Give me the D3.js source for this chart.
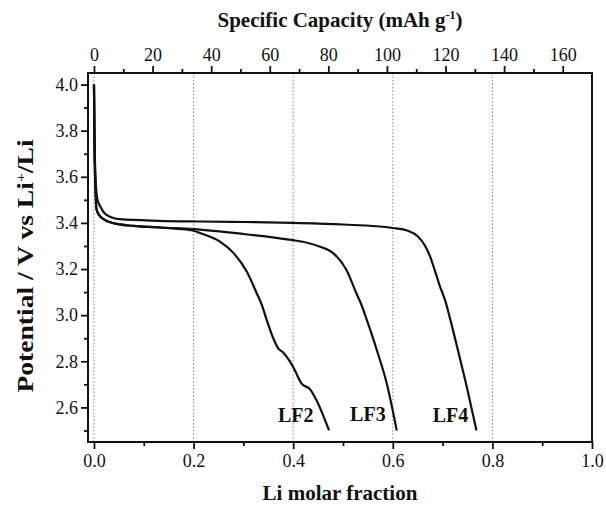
<!DOCTYPE html>
<html>
<head>
<meta charset="utf-8">
<script src="https://cdn.jsdelivr.net/npm/d3@7"></script>
<style>
  html, body { margin: 0; padding: 0; background: #fff; }
  svg text { font-family: "Liberation Serif", "Times New Roman", serif; fill: #111; }
</style>
</head>
<body>
<svg id="chart" width="606" height="505"></svg>
<script>
// ---- data (Li molar fraction x, potential V) ----
const lf2X = [0, 0.001, 0.003, 0.005, 0.01, 0.02, 0.039, 0.079, 0.133, 0.17, 0.2, 0.213, 0.253, 0.28, 0.307, 0.327, 0.337, 0.347, 0.36, 0.37, 0.38, 0.39, 0.40, 0.417, 0.434, 0.447, 0.472];
const lf2V = [4.0, 3.75, 3.55, 3.46, 3.435, 3.415, 3.399, 3.387, 3.380, 3.374, 3.366, 3.356, 3.319, 3.27, 3.188, 3.094, 3.045, 2.978, 2.9, 2.856, 2.838, 2.81, 2.775, 2.703, 2.678, 2.63, 2.5];

const lf3X = [0, 0.001, 0.003, 0.005, 0.01, 0.02, 0.039, 0.079, 0.133, 0.2, 0.3, 0.373, 0.4, 0.43, 0.454, 0.481, 0.507, 0.527, 0.537, 0.548, 0.568, 0.588, 0.608];
const lf3V = [4.0, 3.75, 3.55, 3.46, 3.435, 3.415, 3.399, 3.387, 3.380, 3.373, 3.352, 3.333, 3.325, 3.313, 3.297, 3.268, 3.196, 3.094, 3.045, 2.978, 2.848, 2.703, 2.5];

const lf4X = [0, 0.001, 0.003, 0.007, 0.013, 0.025, 0.052, 0.13, 0.213, 0.3, 0.4, 0.5, 0.6, 0.63, 0.65, 0.665, 0.675, 0.685, 0.695, 0.705, 0.715, 0.73, 0.75, 0.768];
const lf4V = [4.0, 3.8, 3.6, 3.5, 3.47, 3.435, 3.416, 3.409, 3.406, 3.404, 3.400, 3.393, 3.378, 3.366, 3.342, 3.30, 3.254, 3.19, 3.123, 3.065, 2.985, 2.855, 2.675, 2.5];

const seriesNames = ["LF2", "LF3", "LF4"];
const labelPos = [[0.405, 2.535], [0.55, 2.54], [0.716, 2.537]];

const xTicks = [0, 0.2, 0.4, 0.6, 0.8, 1.0];
const xMinor = [0.1, 0.3, 0.5, 0.7, 0.9];
const yTicks = [2.6, 2.8, 3.0, 3.2, 3.4, 3.6, 3.8, 4.0];
const yMinor = [2.5, 2.7, 2.9, 3.1, 3.3, 3.5, 3.7, 3.9];
const capTicks = [0, 20, 40, 60, 80, 100, 120, 140, 160];
const capMinor = [10, 30, 50, 70, 90, 110, 130, 150];
const gridX = [0, 0.2, 0.4, 0.6, 0.8];

// ---- layout ----
const L = 88, R = 592, T = 73, B = 442;
const FONT = '"Liberation Serif", "Times New Roman", serif';
const svg = d3.select("#chart");
const x = d3.scaleLinear().domain([-0.012, 1.0]).range([L, R]);
const cap = d3.scaleLinear().domain([-0.012 * 170, 170]).range([L, R]);
const y = d3.scaleLinear().domain([2.45, 4.05]).range([B, T]);

// gridlines
svg.append("g").selectAll("line").data(gridX).join("line")
  .attr("x1", d => x(d)).attr("x2", d => x(d))
  .attr("y1", T).attr("y2", B)
  .attr("stroke", "#888").attr("stroke-width", 1)
  .attr("stroke-dasharray", "1.5,2");

// axes
function styleAxis(g) {
  g.attr("font-family", FONT);
  g.select(".domain").remove();
  g.selectAll(".tick line").attr("stroke", "#111").attr("stroke-width", 1.8);
  g.selectAll(".tick text").style("font-size", "18px").style("font-family", FONT).attr("fill", "#111");
}
const fmt1 = d3.format(".1f");
// bottom
svg.append("g").attr("transform", `translate(0,${B})`)
  .call(d3.axisBottom(x).tickValues(xTicks).tickFormat(fmt1).tickSize(7).tickPadding(5))
  .call(styleAxis);
svg.append("g").attr("transform", `translate(0,${B})`)
  .call(d3.axisBottom(x).tickValues(xMinor).tickFormat("").tickSize(4))
  .call(styleAxis);
// left
svg.append("g").attr("transform", `translate(${L},0)`)
  .call(d3.axisLeft(y).tickValues(yTicks).tickFormat(fmt1).tickSize(7).tickPadding(3))
  .call(styleAxis);
svg.append("g").attr("transform", `translate(${L},0)`)
  .call(d3.axisLeft(y).tickValues(yMinor).tickFormat("").tickSize(4))
  .call(styleAxis);
// top
svg.append("g").attr("transform", `translate(0,${T})`)
  .call(d3.axisTop(cap).tickValues(capTicks).tickFormat(d3.format("d")).tickSize(7).tickPadding(5))
  .call(styleAxis);
svg.append("g").attr("transform", `translate(0,${T})`)
  .call(d3.axisTop(cap).tickValues(capMinor).tickFormat("").tickSize(4))
  .call(styleAxis);

// frame
svg.append("rect").attr("x", L).attr("y", T).attr("width", R - L).attr("height", B - T)
  .attr("fill", "none").attr("stroke", "#111").attr("stroke-width", 2);

// curves
const line = d3.line().x(d => x(d[0])).y(d => y(d[1])).curve(d3.curveMonotoneX);
const all = [[lf2X, lf2V], [lf3X, lf3V], [lf4X, lf4V]];
svg.append("g").selectAll("path").data(all).join("path")
  .attr("d", s => line(s[0].map((v, i) => [v, s[1][i]])))
  .attr("fill", "none").attr("stroke", "#111").attr("stroke-width", 2.2);

// series labels
svg.append("g").selectAll("text").data(seriesNames).join("text")
  .attr("x", (d, i) => x(labelPos[i][0])).attr("y", (d, i) => y(labelPos[i][1]))
  .attr("text-anchor", "middle")
  .style("font-size", "20px").style("font-weight", "bold")
  .text(d => d);

// titles
svg.append("text").attr("x", (L + R) / 2).attr("y", 500).attr("text-anchor", "middle")
  .style("font-size", "21px").style("font-weight", "bold").text("Li molar fraction");

const topT = svg.append("text").attr("x", (L + R) / 2).attr("y", 27).attr("text-anchor", "middle")
  .style("font-size", "21px").style("font-weight", "bold");
topT.append("tspan").text("Specific Capacity (mAh g");
topT.append("tspan").attr("dy", -8).style("font-size", "12px").text("-1");
topT.append("tspan").attr("dy", 8).text(")");

const yT = svg.append("text").attr("transform", `translate(33,266) rotate(-90) scale(1.2,1)`)
  .attr("text-anchor", "middle").style("font-size", "23px").style("font-weight", "bold");
yT.append("tspan").text("Potential / V vs Li");
yT.append("tspan").attr("dy", -8).style("font-size", "13px").text("+");
yT.append("tspan").attr("dy", 8).text("/Li");
</script>
</body>
</html>
